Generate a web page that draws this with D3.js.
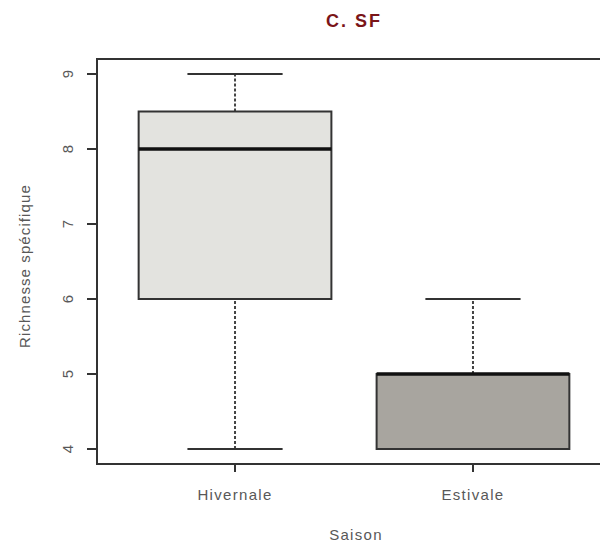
<!DOCTYPE html>
<html><head><meta charset="utf-8">
<script src="https://cdn.jsdelivr.net/npm/d3@7"></script>
<style>body{margin:0;background:#fff}svg{display:block}</style>
</head><body>
<script>
const categories = ["Hivernale", "Estivale"];
const mins = [4, 4];
const q1s = [6, 4];
const medians = [8, 5];
const q3s = [8.5, 5];
const maxs = [9, 6];
const fills = ["#e3e3df", "#a8a59f"];
const yTicks = [4, 5, 6, 7, 8, 9];
const title = "C. SF";
const xTitle = "Saison";
const yTitle = "Richnesse spécifique";

const W = 600, H = 546;
const svg = d3.select("body").append("svg").attr("width", W).attr("height", H);
const font = "Liberation Sans, Arial, sans-serif";
const txtCol = "#585858";

const y = d3.scaleLinear().domain([3.8, 9.2]).range([464, 59]);
const x = d3.scaleLinear().domain([0.42, 2.58]).range([97, 611]);
const boxW = 0.81, capW = 0.4;

// plot frame
svg.append("rect").attr("x", 97).attr("y", 59).attr("width", 514).attr("height", 405)
  .attr("fill", "none").attr("stroke", "#333").attr("stroke-width", 2);

const data = categories.map((c, i) => ({c, i: i + 1, min: mins[i], q1: q1s[i], med: medians[i], q3: q3s[i], max: maxs[i], fill: fills[i]}));

const g = svg.append("g");
data.forEach(d => {
  const cx = x(d.i);
  [[d.q3, d.max], [d.min, d.q1]].forEach(([a, b]) => {
    if (a !== b) g.append("line").attr("x1", cx).attr("x2", cx).attr("y1", y(a)).attr("y2", y(b))
      .attr("stroke", "#444").attr("stroke-width", 2).attr("stroke-dasharray", "3,2");
  });
  [d.min, d.max].forEach(v => {
    g.append("line").attr("x1", x(d.i - capW / 2)).attr("x2", x(d.i + capW / 2))
      .attr("y1", y(v)).attr("y2", y(v)).attr("stroke", "#333").attr("stroke-width", 2);
  });
  g.append("rect").attr("x", x(d.i - boxW / 2)).attr("width", x(d.i + boxW / 2) - x(d.i - boxW / 2))
    .attr("y", y(d.q3)).attr("height", y(d.q1) - y(d.q3))
    .attr("fill", d.fill).attr("stroke", "#333").attr("stroke-width", 2);
  g.append("line").attr("x1", x(d.i - boxW / 2)).attr("x2", x(d.i + boxW / 2))
    .attr("y1", y(d.med)).attr("y2", y(d.med)).attr("stroke", "#111").attr("stroke-width", 3.5);
});

function label(sel, txt, size, ls) {
  return sel.attr("font-family", font).attr("font-size", size).attr("letter-spacing", ls)
    .attr("fill", txtCol).attr("text-anchor", "middle").text(txt);
}

// y axis
yTicks.forEach(t => {
  svg.append("line").attr("x1", 87).attr("x2", 97).attr("y1", y(t)).attr("y2", y(t))
    .attr("stroke", "#333").attr("stroke-width", 2);
  label(svg.append("text").attr("transform", `translate(73,${y(t)}) rotate(-90)`), t, 15, 0);
});
// x axis
categories.forEach((c, i) => {
  svg.append("line").attr("x1", x(i + 1)).attr("x2", x(i + 1)).attr("y1", 464).attr("y2", 472)
    .attr("stroke", "#333").attr("stroke-width", 2);
  label(svg.append("text").attr("x", x(i + 1)).attr("y", 500), c, 15, 1.3);
});

label(svg.append("text").attr("x", 356).attr("y", 540), xTitle, 15, 1.3);
label(svg.append("text").attr("transform", "translate(30,266) rotate(-90)"), yTitle, 15, 1.1);
svg.append("text").attr("x", 354).attr("y", 27).attr("text-anchor", "middle")
  .attr("font-family", font).attr("font-size", 18).attr("font-weight", "bold").attr("letter-spacing", 2)
  .attr("fill", "#7a1518").text(title);
</script>
</body></html>
